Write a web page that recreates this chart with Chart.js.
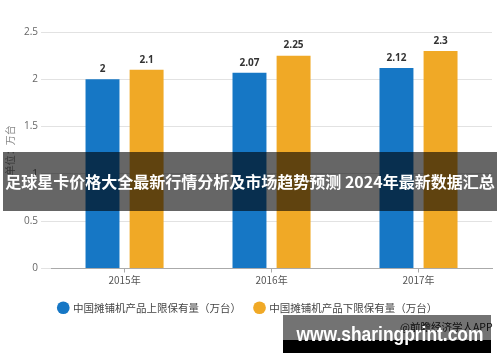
<!DOCTYPE html>
<html>
<head>
<meta charset="utf-8">
<script src="https://cdn.jsdelivr.net/npm/chart.js@4"></script>
<style>
    html, body { margin: 0; padding: 0; background: #fff; }
    #wrap { position: relative; width: 500px; height: 362px; overflow: hidden; }
    #chart { position: absolute; left: 0; top: 0; }
    .band {
        position: absolute; left: 3px; top: 152px; width: 494px; height: 59px;
        background: rgba(0, 0, 0, 0.6); color: #fff;
        font: bold 16px "Noto Sans CJK SC", sans-serif;
        line-height: 59px; text-align: center; white-space: nowrap;
    }
    .source {
        position: absolute; left: 400px; top: 319px; line-height: 16px;
        font: 10.5px "Noto Sans CJK SC", sans-serif; color: #222; white-space: nowrap;
    }
    .site-top {
        position: absolute; left: 283px; top: 315px; width: 208px; height: 25px;
        background: rgba(0, 0, 0, 0.55);
    }
    .site-bottom {
        position: absolute; left: 283px; top: 340px; width: 208px; height: 13px;
        background: #000;
    }
    .site-text {
        position: absolute; left: 283px; top: 323px; width: 208px; height: 28px;
        line-height: 28px; text-align: center; color: #fff; white-space: nowrap;
        font: bold 20px "Liberation Sans", sans-serif;
        transform: scaleX(0.87); transform-origin: 50% 50%;
    }
</style>
</head>
<body>
<div id="wrap">
    <canvas id="chart" width="500" height="362"></canvas>
    <div class="band">足球星卡价格大全最新行情分析及市场趋势预测 2024年最新数据汇总</div>
    <div class="source">@前瞻经济学人APP</div>
    <div class="site-top"></div>
    <div class="site-bottom"></div>
    <div class="site-text">www.sharingprint.com</div>
</div>
<script>
const years = ['2015年', '2016年', '2017年'];
const upperStock = [2, 2.07, 2.12];
const lowerStock = [2.1, 2.25, 2.3];
const seriesNames = ['中国摊铺机产品上限保有量（万台）', '中国摊铺机产品下限保有量（万台）'];
const yTicks = [0, 0.5, 1, 1.5, 2, 2.5];

const barColors = ['#1677c5', '#f0a926'];
const cjkFont = '"Noto Sans CJK SC", sans-serif';

// value labels above each bar
const valueLabels = {
    id: 'valueLabels',
    afterDatasetsDraw(chart) {
        const { ctx } = chart;
        ctx.save();
        ctx.font = 'bold 10px "Open Sans", sans-serif';
        ctx.fillStyle = '#333';
        ctx.textAlign = 'center';
        ctx.textBaseline = 'bottom';
        chart.data.datasets.forEach((ds, i) => {
            chart.getDatasetMeta(i).data.forEach((bar, j) => {
                ctx.fillText(String(ds.data[j]), bar.x, bar.y - 5);
            });
        });
        ctx.restore();
    },
};

new Chart(document.getElementById('chart'), {
    type: 'bar',
    data: {
        labels: years,
        datasets: [
            { label: seriesNames[0], data: upperStock, backgroundColor: barColors[0] },
            { label: seriesNames[1], data: lowerStock, backgroundColor: barColors[1] },
        ],
    },
    options: {
        responsive: false,
        animation: false,
        categoryPercentage: 0.6,
        barPercentage: 0.77,
        layout: { padding: { top: 32, right: 8, bottom: 39, left: 4 } },
        plugins: {
            tooltip: { enabled: false },
            legend: {
                position: 'bottom',
                labels: {
                    usePointStyle: true,
                    pointStyle: 'circle',
                    boxWidth: 9,
                    boxHeight: 9,
                    padding: 14,
                    color: '#444',
                    font: { family: cjkFont, size: 10.5 },
                },
            },
        },
        scales: {
            x: {
                grid: { display: true, drawOnChartArea: false, offset: false, tickLength: 4, color: '#aaa' },
                border: { color: '#aaa' },
                ticks: { color: '#555', font: { family: cjkFont, size: 10 }, padding: 2 },
            },
            y: {
                min: 0,
                max: 2.5,
                afterBuildTicks: (axis) => { axis.ticks = yTicks.map(v => ({ value: v })); },
                grid: { color: '#e2e2e2', tickLength: 10 },
                border: { display: false },
                ticks: {
                    color: '#666',
                    font: { family: '"Open Sans", sans-serif', size: 10 },
                    padding: 3,
                    callback: (value) => String(value),
                },
                title: {
                    display: true,
                    text: '单位：万台',
                    color: '#888',
                    font: { family: cjkFont, size: 10 },
                    padding: { top: 0, bottom: 5 },
                },
            },
        },
    },
    plugins: [valueLabels],
});
</script>
</body>
</html>
